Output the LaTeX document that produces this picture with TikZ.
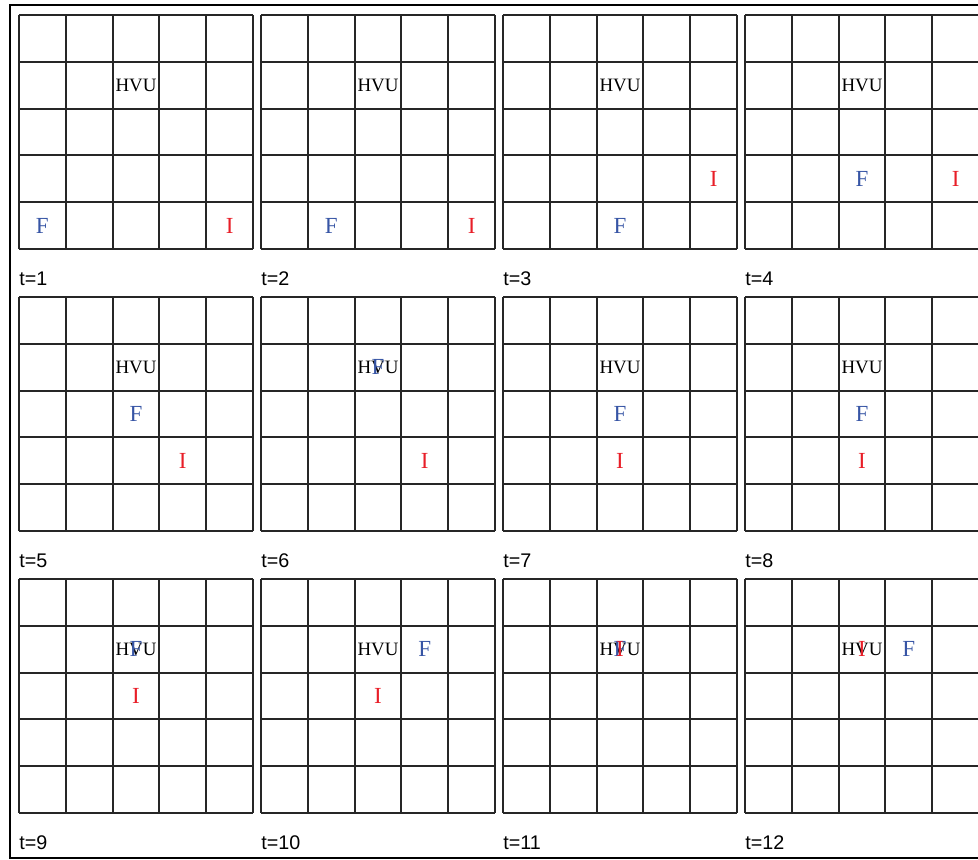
\documentclass[tikz,border=0pt]{standalone}
\usepackage{fontspec}
\setmainfont{Liberation Serif}
\newfontfamily\labelfont{Liberation Sans}
\usepackage{xcolor}
\definecolor{friendblue}{RGB}{55,85,165}
\definecolor{intruderred}{RGB}{232,30,40}

\begin{document}
\begin{tikzpicture}[
    gridline/.style={line width=1.2pt, draw=black!85},
    frameline/.style={line width=1.5pt, draw=black},
    hvu/.style={font=\fontsize{11.5}{12}\selectfont, inner sep=0pt},
    friend/.style={font=\fontsize{14}{15}\selectfont, text=friendblue, inner sep=0pt},
    intruder/.style={font=\fontsize{14}{15}\selectfont, text=intruderred, inner sep=0pt},
    steplabel/.style={font=\labelfont\fontsize{12}{13}\selectfont, anchor=base west, inner sep=0pt},
]

% Page size of the reference
\clip (0,0) rectangle (20.897,-18.355);

% Outer frame (open on the right)
\draw[frameline] (21.5,-0.107) -- (0.214,-0.107) -- (0.214,-18.333) -- (21.5,-18.333);

% One 5x5 board per time step: t / F column / F row / I column / I row
\foreach \t/\fc/\fr/\ic/\ir in {1/0/4/4/4, 2/1/4/4/4, 3/2/4/4/3, 4/2/3/4/3,
                                5/2/2/3/3, 6/2/1/3/3, 7/2/2/2/3, 8/2/2/2/3,
                                9/2/1/2/2, 10/3/1/2/2, 11/2/1/2/1, 12/3/1/2/1}{
  \pgfmathtruncatemacro{\bx}{mod(\t-1,4)}
  \pgfmathtruncatemacro{\by}{int((\t-1)/4)}
  \begin{scope}[shift={(0.406+5.171*\bx,-0.321-6.026*\by)}]
    % board
    \foreach \k in {0,...,5}{
      \draw[gridline] (\k,0) -- (\k,-5);
      \draw[gridline] (0,-\k) -- (5,-\k);
    }
    % units
    \node[hvu]      (hvu\t) at (2.5,-1.5) {HVU};
    \node[friend]   (f\t)   at (\fc+0.5,-\fr-0.5) {F};
    \node[intruder] (i\t)   at (\ic+0.5,-\ir-0.5) {I};
    % time label
    \node[steplabel] (t\t) at (0,-5.77) {t=\t};
  \end{scope}
}

\end{tikzpicture}
\end{document}
